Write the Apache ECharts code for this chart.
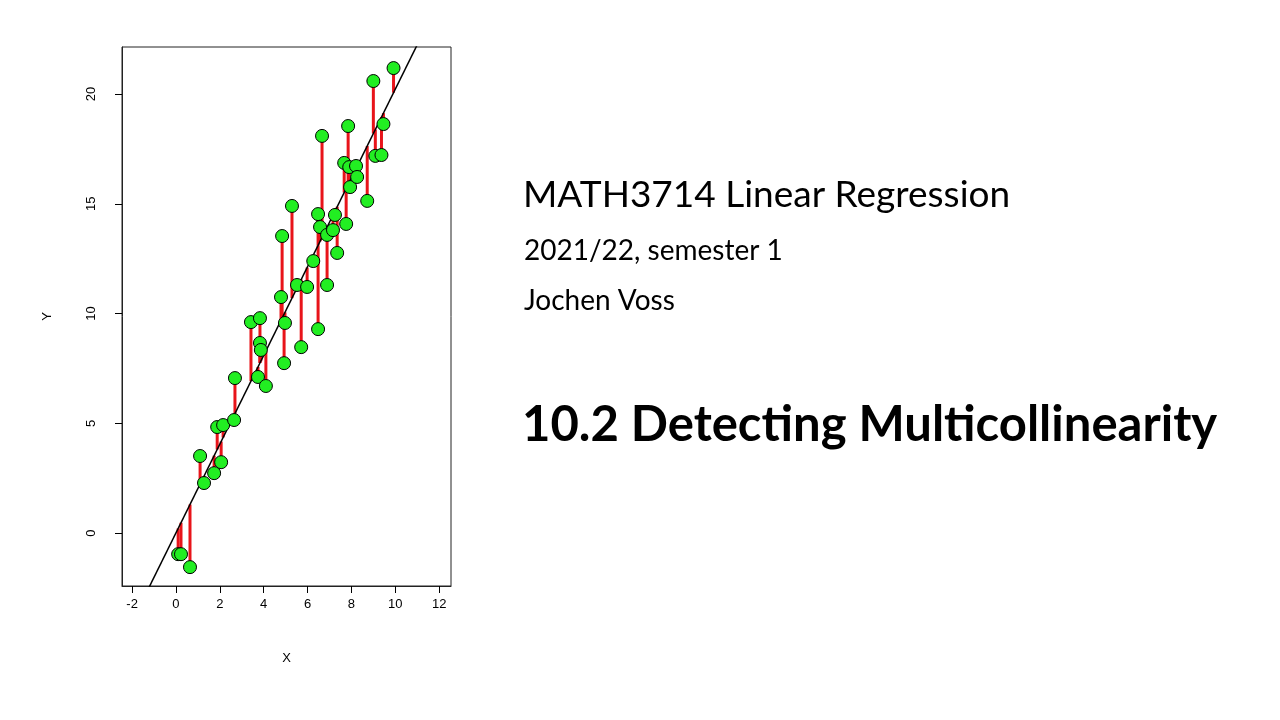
<!DOCTYPE html>
<html>
<head>
<meta charset="utf-8">
<script src="https://cdn.jsdelivr.net/npm/echarts@6/dist/echarts.min.js"></script>
<style>html,body{margin:0;padding:0;background:#fff}#main{width:1280px;height:720px}</style>
</head>
<body>
<div id="main"></div>
<script>
// 数据点
const xs = [0.10, 0.23, 0.64, 1.10, 1.28, 1.74, 1.88, 2.06, 2.15, 2.65, 2.69, 3.42, 3.74, 3.83, 3.83, 3.87,
  4.10, 4.79, 4.84, 4.93, 4.97, 5.29, 5.52, 5.71, 5.98, 6.26, 6.48, 6.48, 6.57, 6.66, 6.89, 6.89,
  7.16, 7.25, 7.35, 7.67, 7.76, 7.85, 7.90, 7.94, 8.21, 8.26, 8.72, 9.00, 9.09, 9.37, 9.46, 9.92];
const ys = [-0.96, -0.96, -1.55, 3.51, 2.28, 2.73, 4.83, 3.23, 4.92, 5.15, 7.06, 9.61, 7.11, 9.79, 8.66, 8.34,
  6.70, 10.75, 13.53, 7.74, 9.57, 14.90, 11.30, 8.47, 11.21, 12.39, 14.53, 9.29, 13.94, 18.09, 13.58, 11.30,
  13.80, 14.49, 12.76, 16.86, 14.08, 18.54, 16.67, 15.76, 16.72, 16.22, 15.13, 20.59, 17.18, 17.22, 18.63, 21.18];
const xTicks = [-2, 0, 2, 4, 6, 8, 10, 12];
const yTicks = [0, 5, 10, 15, 20];

// 最小二乘拟合
const n = xs.length;
const mx = xs.reduce((a, b) => a + b, 0) / n;
const my = ys.reduce((a, b) => a + b, 0) / n;
let sxy = 0, sxx = 0;
xs.forEach((x, i) => { sxy += (x - mx) * (ys[i] - my); sxx += (x - mx) * (x - mx); });
const slope = sxy / sxx;
const icpt = my - slope * mx;

const xMin = -2.46, xMax = 12.54, yMin = -2.41, yMax = 22.14;
const pts = xs.map((x, i) => [x, ys[i]]);
const fitLine = [[xMin, icpt + slope * xMin], [xMax, icpt + slope * xMax]];

const chart = echarts.init(document.getElementById('main'));
const axisFont = { fontFamily: 'Liberation Sans', fontSize: 13, color: '#000' };
const txt = { fontFamily: 'Lato', fontWeight: 'normal', color: '#000' };
chart.setOption({
  animation: false,
  grid: { left: 122, top: 47, width: 329, height: 539, show: true, borderColor: '#222', borderWidth: 1 },
  xAxis: {
    type: 'value', min: xMin, max: xMax,
    name: 'X', nameLocation: 'middle', nameGap: 66, nameTextStyle: axisFont,
    axisLine: { show: true, onZero: false, lineStyle: { color: '#222' } }, splitLine: { show: false },
    axisTick: { show: true, length: 7, lineStyle: { color: '#000' }, customValues: xTicks },
    axisLabel: { ...axisFont, margin: 12, customValues: xTicks }
  },
  yAxis: {
    type: 'value', min: yMin, max: yMax,
    name: 'Y', nameLocation: 'middle', nameGap: 68, nameRotate: 90, nameTextStyle: axisFont,
    axisLine: { show: true, onZero: false, lineStyle: { color: '#222' } }, splitLine: { show: false },
    axisTick: { show: true, length: 7, lineStyle: { color: '#000' }, customValues: yTicks },
    axisLabel: { ...axisFont, margin: 24, rotate: 90, customValues: yTicks }
  },
  title: [
    { text: 'MATH3714 Linear Regression', left: 518, top: 172, textStyle: { ...txt, fontSize: 37 } },
    { text: '2021/22, semester 1', left: 519, top: 232, textStyle: { ...txt, fontSize: 28 } },
    { text: 'Jochen Voss', left: 519, top: 282, textStyle: { ...txt, fontSize: 28 } },
    { text: '10.2 Detecting Multicollinearity', left: 517, top: 396, textStyle: { ...txt, fontWeight: 'bold', fontSize: 49 } }
  ],
  series: [
    {
      type: 'custom', z: 1,
      renderItem: (params, api) => {
        const x = api.value(0), y = api.value(1);
        const p1 = api.coord([x, y]);
        const p2 = api.coord([x, icpt + slope * x]);
        return { type: 'line', shape: { x1: p1[0], y1: p1[1], x2: p2[0], y2: p2[1] }, style: { stroke: '#e8141a', lineWidth: 3 } };
      },
      data: pts
    },
    { type: 'line', data: fitLine, symbol: 'none', z: 2, lineStyle: { color: '#000', width: 1.5 }, clip: true },
    { type: 'scatter', data: pts, z: 3, symbolSize: 13, itemStyle: { color: '#22ee22', borderColor: '#000', borderWidth: 1, opacity: 1 } }
  ]
});
</script>
</body>
</html>
